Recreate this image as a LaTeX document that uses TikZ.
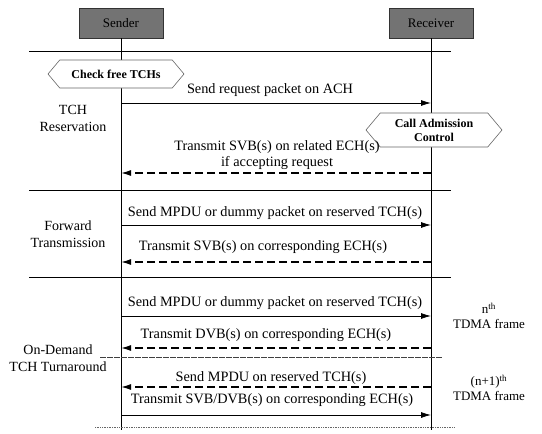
\documentclass[tikz,border=0pt]{standalone}
\usepackage{fontspec}
\setmainfont{Liberation Serif}
\usetikzlibrary{arrows.meta,shapes.symbols}
\begin{document}
\begin{tikzpicture}[x=1pt,y=-1pt,
  txt/.style={font=\fontsize{14.3}{16}\selectfont, align=center, inner sep=0pt},
  lbl/.style={font=\fontsize{14}{17}\selectfont, align=center, inner sep=0pt},
  frm/.style={font=\fontsize{13}{15}\selectfont, align=center, inner sep=0pt},
  actor/.style={draw=black!80, fill=black!55, minimum width=84pt, minimum height=30pt, inner sep=0pt, font=\fontsize{13}{15}\selectfont},
  hexa/.style={signal, signal to=west and east, signal pointer angle=100, draw=black!60, line width=0.6pt, fill=white, align=center, inner sep=1pt, font=\bfseries\fontsize{12}{14}\selectfont},
  msg/.style={-{Latex[length=10pt,width=6pt]}, line width=0.8pt},
  ret/.style={-{Latex[length=10pt,width=6pt]}, line width=1.3pt, dash pattern=on 8pt off 4pt},
  sepline/.style={line width=0.9pt},
  lifeline/.style={line width=0.8pt}
]
\useasboundingbox (0,0) rectangle (542,434);

% actors
\node[actor] (snd) at (121,23) {Sender};
\node[actor] (rcv) at (431,23) {Receiver};
\coordinate (sEnd) at (121,430);
\coordinate (rEnd) at (431,430);
\draw[lifeline] (snd.south) -- (sEnd);
\draw[lifeline] (rcv.south) -- (rEnd);

% section separators
\coordinate (L0) at (29,51);  \coordinate (R0) at (451,51);
\coordinate (L1) at (29,190); \coordinate (R1) at (451,190);
\coordinate (L2) at (29,277); \coordinate (R2) at (451,277);
\coordinate (L3) at (100,357); \coordinate (R3) at (443,357);
\coordinate (L4) at (95,427); \coordinate (R4) at (455,427);
\draw[sepline] (L0) -- (R0);
\draw[sepline] (L1) -- (R1);
\draw[sepline] (L2) -- (R2);
\draw[line width=0.6pt, black!75, dash pattern=on 6pt off 1pt] (L3) -- (R3);
\draw[line width=0.7pt, black!60, densely dotted] (L4) -- (R4);

% TCH reservation
\node[hexa, minimum width=136pt, minimum height=28pt] (chk) at (116,74) {Check free TCHs};
\node[txt] (t1) at (270,90) {Send request packet on ACH};
\coordinate (s1) at (121,103); \coordinate (r1) at (431,103);
\draw[msg] (s1) -- (r1);
\node[lbl] (l1) at (73,118) {TCH\\Reservation};
\node[hexa, minimum width=136pt, minimum height=34pt] (cac) at (434,130) {Call Admission\\Control};
\node[txt] (t2) at (277,155) {Transmit SVB(s) on related ECH(s)\\if accepting request};
\coordinate (s2) at (121,173); \coordinate (r2) at (431,173);
\draw[ret] (r2) -- (s2);

% forward transmission
\node[txt] (t3) at (275,213) {Send MPDU or dummy packet on reserved TCH(s)};
\coordinate (s3) at (121,225); \coordinate (r3) at (431,225);
\draw[msg] (s3) -- (r3);
\node[lbl] (l2) at (68,234) {Forward\\Transmission};
\node[txt] (t4) at (263,247) {Transmit SVB(s) on corresponding ECH(s)};
\coordinate (s4) at (121,262); \coordinate (r4) at (431,262);
\draw[ret] (r4) -- (s4);

% on-demand turnaround
\node[txt] (t5) at (275,303) {Send MPDU or dummy packet on reserved TCH(s)};
\coordinate (s5) at (121,316); \coordinate (r5) at (431,316);
\draw[msg] (s5) -- (r5);
\node[frm] (f1) at (489,316) {n\textsuperscript{th}\\TDMA frame};
\node[txt] (t6) at (266,335) {Transmit DVB(s) on corresponding ECH(s)};
\coordinate (s6) at (121,348); \coordinate (r6) at (431,348);
\draw[ret] (r6) -- (s6);
\node[lbl] (l3) at (58,358) {On-Demand\\TCH Turnaround};
\node[txt] (t7) at (271,378) {Send MPDU on reserved TCH(s)};
\coordinate (s7) at (121,387); \coordinate (r7) at (431,387);
\draw[ret] (r7) -- (s7);
\node[frm] (f2) at (489,388) {(n+1)\textsuperscript{th}\\TDMA frame};
\node[txt] (t8) at (272,400) {Transmit SVB/DVB(s) on corresponding ECH(s)};
\coordinate (s8) at (121,415); \coordinate (r8) at (431,415);
\draw[msg] (s8) -- (r8);
\end{tikzpicture}
\end{document}
